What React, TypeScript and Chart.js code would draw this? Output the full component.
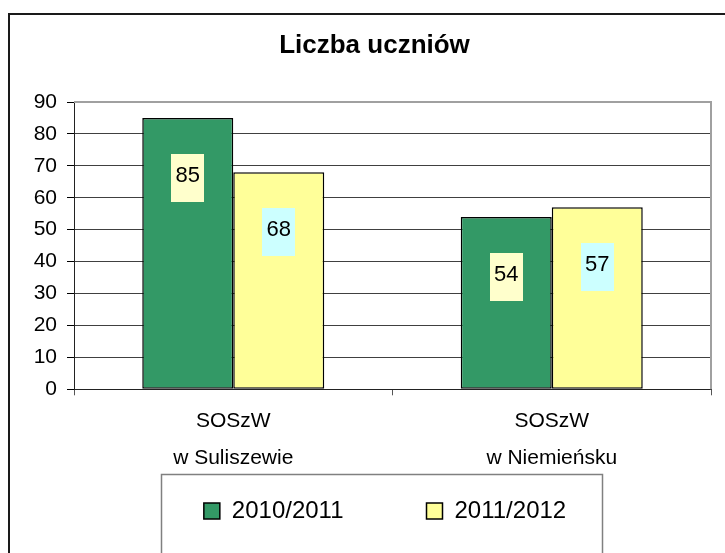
import React, { useEffect, useRef } from "react";
import { Chart, registerables } from "chart.js";

Chart.register(...registerables);

// ---- data ----
const categories: string[][] = [
  ["SOSzW", "w Suliszewie"],
  ["SOSzW", "w Niemieńsku"],
];
const seriesNames: string[] = ["2010/2011", "2011/2012"];
const values2010: number[] = [85, 54];
const values2011: number[] = [68, 57];
const yMin = 0;
const yMax = 90;
const yStep = 10;
const titleText = "Liczba uczniów";

// ---- style ----
const FONT = "'Liberation Sans', Arial, sans-serif";
const seriesColors = ["#339966", "#FFFF99"];
const labelBoxColors = ["#FFFFCC", "#CCFFFF"];

const decorPlugin = {
  id: "decor",
  afterLayout(chart: any) {
    const t = chart.titleBlock;
    if (t) {
      t.left -= 10.5;
      t.right -= 10.5;
    }
    // widen the label clip areas of the axes so tick labels are not cut
    const ys = chart.scales.y;
    if (ys) ys.left = 0;
    const xs = chart.scales.x;
    if (xs) xs.bottom = chart.height;
  },
  beforeDraw(chart: any) {
    const ctx = chart.ctx;
    ctx.save();
    ctx.fillStyle = "#ffffff";
    ctx.fillRect(0, 0, chart.width, chart.height);
    ctx.strokeStyle = "#1a1a1a";
    ctx.lineWidth = 2;
    ctx.strokeRect(9, 14, chart.width + 60, chart.height + 60);
    ctx.restore();
  },
  beforeDatasetsDraw(chart: any) {
    const ctx = chart.ctx;
    const { left, top, right, bottom } = chart.chartArea;
    ctx.save();
    ctx.strokeStyle = "#a0a0a0";
    ctx.lineWidth = 2;
    ctx.beginPath();
    ctx.moveTo(left, top);
    ctx.lineTo(right, top);
    ctx.lineTo(right, bottom);
    ctx.stroke();
    ctx.restore();
  },
  afterDatasetsDraw(chart: any) {
    const ctx = chart.ctx;
    ctx.save();
    chart.data.datasets.forEach((ds: any, i: number) => {
      const meta = chart.getDatasetMeta(i);
      meta.data.forEach((bar: any, j: number) => {
        const cx = bar.x;
        const cy = bar.y + 60;
        const w = 33;
        const h = 48;
        ctx.fillStyle = labelBoxColors[i];
        ctx.fillRect(Math.round(cx - w / 2), Math.round(cy - h / 2), w, h);
        ctx.fillStyle = "#000";
        ctx.font = `22px ${FONT}`;
        ctx.textAlign = "center";
        ctx.textBaseline = "middle";
        ctx.fillText(String(ds.data[j]), cx, cy - 2);
      });
    });
    ctx.restore();
  },
  afterDraw(chart: any) {
    const lg = chart.legend;
    if (!lg || !lg.legendHitBoxes || lg.legendHitBoxes.length === 0) return;
    const hb = lg.legendHitBoxes;
    const first = hb[0];
    const last = hb[hb.length - 1];
    const x1 = first.left - 43;
    const x2 = last.left + last.width + 36;
    const y1 = first.top - 25;
    const ctx = chart.ctx;
    ctx.save();
    ctx.strokeStyle = "#808080";
    ctx.lineWidth = 1.5;
    ctx.strokeRect(Math.round(x1) + 0.5, Math.round(y1) + 0.5, Math.round(x2 - x1), chart.height + 40);
    ctx.restore();
  },
};

export default function App() {
  const ref = useRef<HTMLCanvasElement>(null);

  useEffect(() => {
    if (!ref.current) return;
    Chart.defaults.font.family = FONT;
    const chart = new Chart(ref.current, {
      type: "bar",
      data: {
        labels: categories,
        datasets: [
          {
            label: seriesNames[0],
            data: values2010,
            backgroundColor: seriesColors[0],
            borderColor: "#000000",
            borderWidth: 1.5,
            borderSkipped: false,
            categoryPercentage: 0.5714,
            barPercentage: 1,
          },
          {
            label: seriesNames[1],
            data: values2011,
            backgroundColor: seriesColors[1],
            borderColor: "#000000",
            borderWidth: 1.5,
            borderSkipped: false,
            categoryPercentage: 0.5714,
            barPercentage: 1,
          },
        ],
      },
      options: {
        responsive: false,
        animation: false,
        devicePixelRatio: 1,
        layout: { padding: { left: 59, right: 14, top: 0, bottom: 20 } },
        scales: {
          x: {
            grid: {
              offset: true,
              drawOnChartArea: false,
              drawTicks: true,
              tickLength: 6,
              color: "#555555",
              lineWidth: 1,
            },
            border: { display: true, color: "#222222", width: 1 },
            ticks: {
              color: "#000000",
              padding: 7,
              font: { size: 21, lineHeight: 37 / 21 },
              maxRotation: 0,
              autoSkip: false,
            },
            afterFit: (s: any) => {
              s.height = 26.7;
            },
          },
          y: {
            min: yMin,
            max: yMax,
            ticks: {
              stepSize: yStep,
              color: "#000000",
              padding: 10,
              font: { size: 21 },
            },
            grid: {
              color: (c: any) => (c.tick && c.tick.value === yMax ? "#a0a0a0" : "#404040"),
              tickColor: "#000000",
              tickLength: 7,
              lineWidth: 1,
            },
            border: { display: true, color: "#222222", width: 1 },
            afterFit: (s: any) => {
              s.width = 15;
            },
          },
        },
        plugins: {
          title: {
            display: true,
            text: titleText,
            color: "#000000",
            font: { size: 26, weight: "bold", lineHeight: 1.2 },
            padding: { top: 30.4, bottom: 40.4 },
          },
          legend: {
            display: true,
            position: "bottom",
            labels: {
              color: "#000000",
              font: { size: 24 },
              boxWidth: 16,
              boxHeight: 16,
              padding: 83,
            },
          },
          tooltip: { enabled: false },
        },
      },
      plugins: [decorPlugin],
    } as any);
    return () => chart.destroy();
  }, []);

  return (
    <div
      style={{
        position: "fixed",
        left: 0,
        top: 0,
        width: 725,
        height: 553,
        overflow: "hidden",
        background: "#ffffff",
      }}
    >
      <canvas
        ref={ref}
        width={725}
        height={553}
        style={{ display: "block", width: 725, height: 553 }}
      />
    </div>
  );
}
